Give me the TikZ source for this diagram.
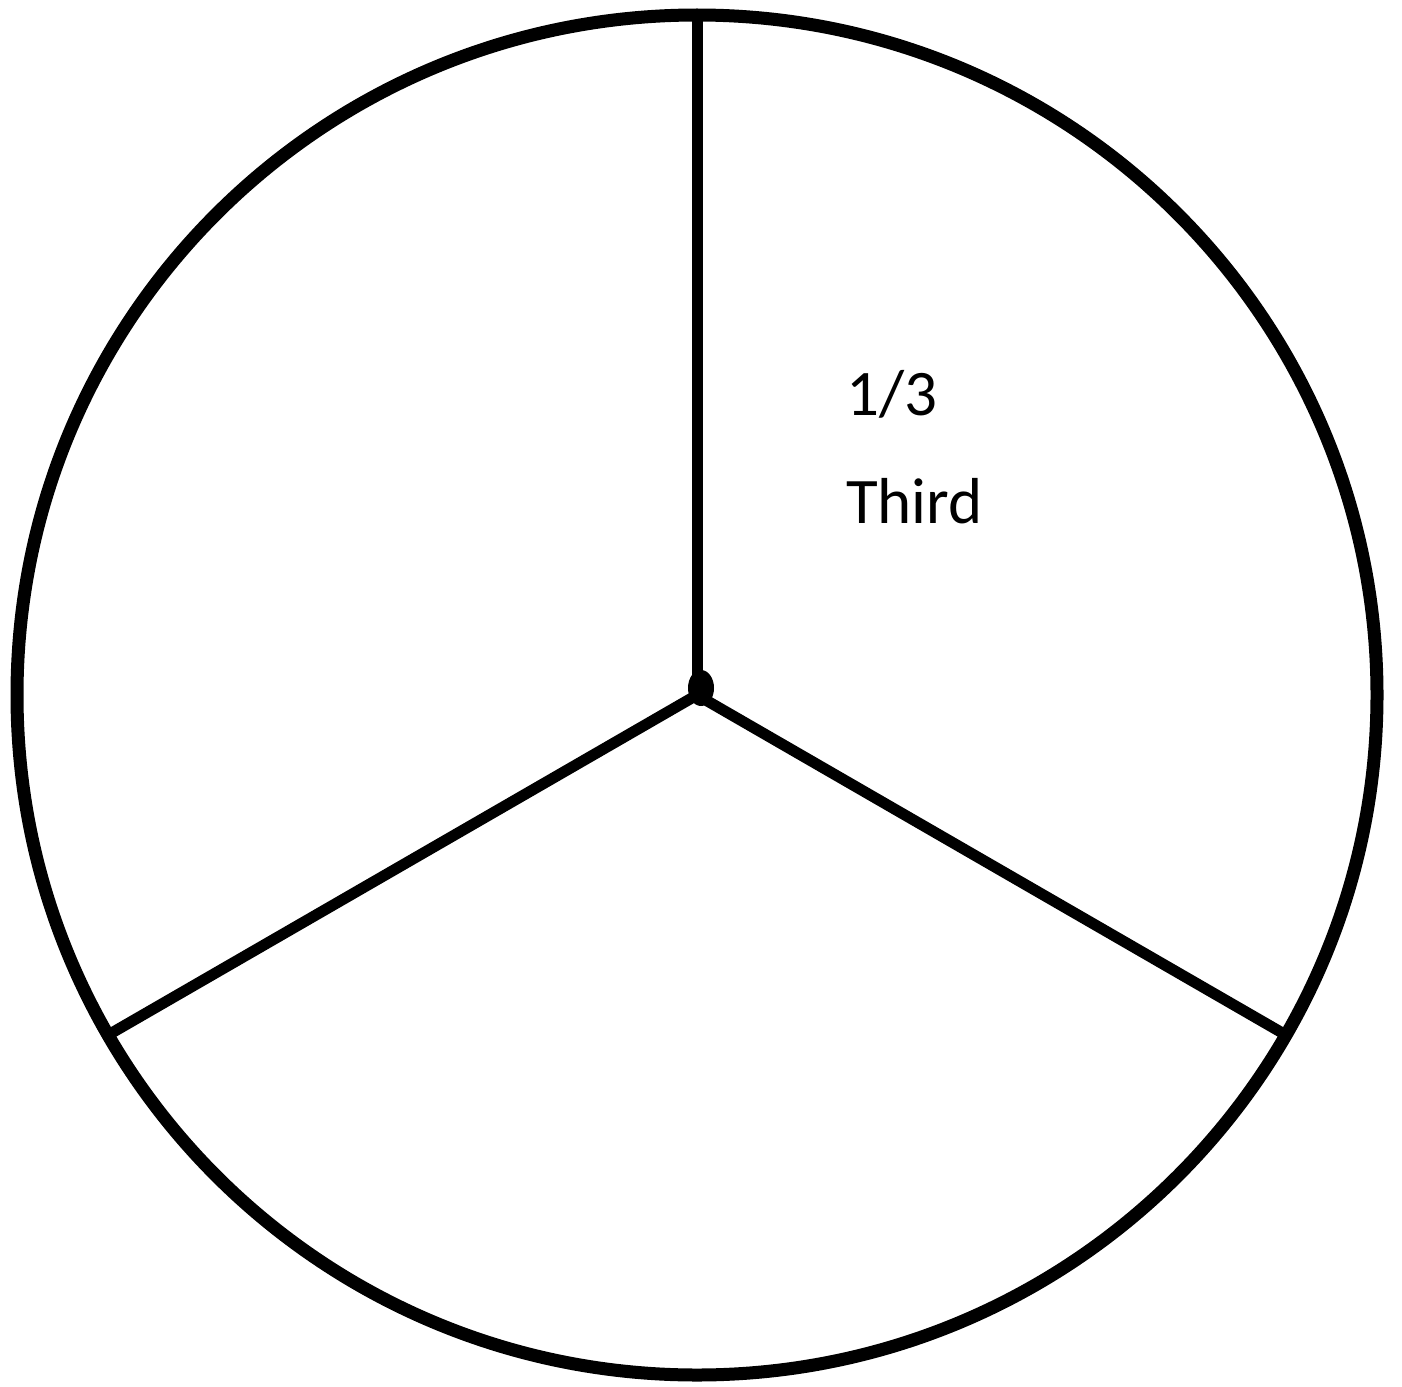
\documentclass[tikz,border=0pt]{standalone}
\usepackage{fontspec}
\setmainfont{Carlito}
\usetikzlibrary{calc}
\begin{document}
\begin{tikzpicture}[x=1pt,y=-1pt,
  rim/.style={line width=13pt},
  spoke/.style={line width=11pt},
  lbl/.style={anchor=base west,inner sep=0pt,font=\fontsize{65}{78}\selectfont}]
\useasboundingbox (0,0) rectangle (1402,1386);
\coordinate (c) at (697,695);
\draw[rim] (c) circle[radius=680];
\coordinate (top) at (697,15);
\coordinate (ll) at ($(c)+(-588.9,340)$);
\coordinate (lr) at ($(c)+(588.9,340)$);
\draw[spoke] (c) -- (top);
\draw[spoke] (c) -- (ll);
\draw[spoke] (c) -- (lr);
\fill (701,688) ellipse[x radius=13, y radius=18];
\node[lbl] (frac) at (846,415) {1/3};
\node[lbl] (word) at (846,523) {Third};
\end{tikzpicture}
\end{document}
